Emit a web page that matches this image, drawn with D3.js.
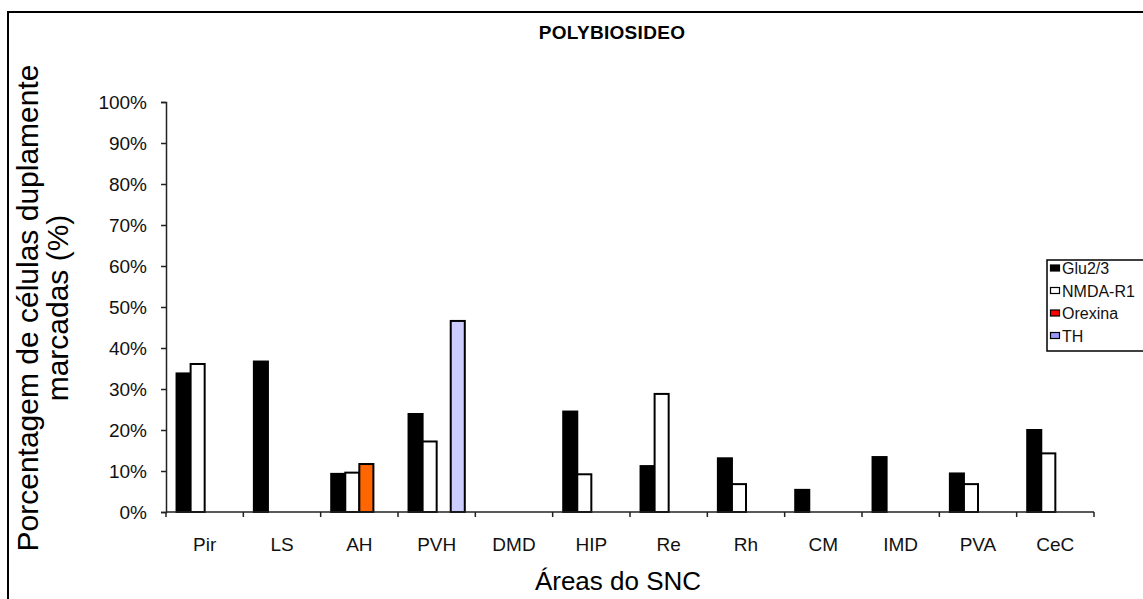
<!DOCTYPE html>
<html>
<head>
<meta charset="utf-8">
<script src="https://cdn.jsdelivr.net/npm/d3@7"></script>
<style>
  html, body { margin: 0; padding: 0; background: #fff; }
  svg { display: block; font-family: "Liberation Sans", Arial, sans-serif; }
</style>
</head>
<body>
<svg id="chart" width="1143" height="599"></svg>
<script>
// ---- data ----
const categories = ["Pir", "LS", "AH", "PVH", "DMD", "HIP", "Re", "Rh", "CM", "IMD", "PVA", "CeC"];
const seriesNames = ["Glu2/3", "NMDA-R1", "Orexina", "TH"];
const glu     = [33.8, 36.7, 9.3, 23.9, null, 24.5, 11.2, 13.1, 5.4, 13.4, 9.4, 20.0];
const nmda    = [36.1, null, 9.6, 17.2, null, 9.2, 28.8, 6.8, null, null, 6.8, 14.3];
const orexina = [null, null, 11.7, null, null, null, null, null, null, null, null, null];
const th      = [null, null, null, 46.6, null, null, null, null, null, null, null, null];
const yTicks  = [0, 10, 20, 30, 40, 50, 60, 70, 80, 90, 100];
const barColors    = ["#000000", "#ffffff", "#ff6600", "#ccccff"];
const legendColors = ["#000000", "#ffffff", "#ff0000", "#9999ff"];

const seriesValues = [glu, nmda, orexina, th];

const svg = d3.select("#chart");

// outer frame
svg.append("rect")
  .attr("x", 8).attr("y", 12).attr("width", 1300).attr("height", 800)
  .attr("fill", "none").attr("stroke", "#000").attr("stroke-width", 2);

// scales
const x0 = d3.scaleBand().domain(categories).range([166, 1094]).padding(0);
const x1 = d3.scaleBand().domain(seriesNames).range([0, x0.bandwidth()]).paddingInner(0).paddingOuter(0.75);
const y = d3.scaleLinear().domain([0, 100]).range([512, 102]);

// title
svg.append("text")
  .attr("x", 612).attr("y", 39)
  .attr("text-anchor", "middle")
  .attr("font-weight", "bold")
  .attr("font-size", 19)
  .attr("letter-spacing", 0.3)
  .text("POLYBIOSIDEO");

// bars
const rows = [];
categories.forEach((c, i) => {
  seriesNames.forEach((s, j) => {
    const v = seriesValues[j][i];
    if (v !== null && v !== undefined) rows.push({ c, s, v, j });
  });
});

svg.append("g").selectAll("rect")
  .data(rows)
  .join("rect")
  .attr("x", d => x0(d.c) + x1(d.s))
  .attr("y", d => y(d.v))
  .attr("width", x1.bandwidth())
  .attr("height", d => y(0) - y(d.v))
  .attr("fill", d => barColors[d.j])
  .attr("stroke", "#000")
  .attr("stroke-width", 2);

// y axis
const yAxis = svg.append("g")
  .attr("transform", "translate(166,0)")
  .call(d3.axisLeft(y).tickValues(yTicks).tickFormat(d => d + "%").tickSize(5).tickPadding(14));
yAxis.select(".domain").attr("stroke", "#222").attr("stroke-width", 1.5);
yAxis.selectAll(".tick line").attr("stroke", "#222").attr("stroke-width", 1.5);
yAxis.selectAll("text").attr("font-size", 19).attr("fill", "#111")
  .attr("font-family", "'Liberation Sans', Arial, sans-serif");

// x axis: baseline line + boundary ticks + labels
const xg = svg.append("g");
xg.append("line")
  .attr("x1", x0.range()[0]).attr("x2", x0.range()[1])
  .attr("y1", y(0)).attr("y2", y(0))
  .attr("stroke", "#222").attr("stroke-width", 1.5);
const bounds = categories.map(c => x0(c)).concat([x0(categories[categories.length - 1]) + x0.bandwidth()]);
xg.selectAll("line.bt")
  .data(bounds)
  .join("line")
  .attr("class", "bt")
  .attr("x1", d => d).attr("x2", d => d)
  .attr("y1", y(0)).attr("y2", y(0) + 5)
  .attr("stroke", "#222").attr("stroke-width", 1.5);
xg.selectAll("text.cl")
  .data(categories)
  .join("text")
  .attr("class", "cl")
  .attr("x", d => x0(d) + x0.bandwidth() / 2)
  .attr("y", 551)
  .attr("text-anchor", "middle")
  .attr("font-size", 19)
  .attr("fill", "#111")
  .text(d => d);

// axis titles
svg.append("text")
  .attr("x", 618).attr("y", 590)
  .attr("text-anchor", "middle")
  .attr("font-size", 26)
  .text("Áreas do SNC");

const yl = svg.append("text")
  .attr("transform", "translate(38,308) rotate(-90)")
  .attr("text-anchor", "middle")
  .attr("font-size", 30);
yl.append("tspan").attr("x", 0).attr("dy", 0).text("Porcentagem de células duplamente");
yl.append("tspan").attr("x", 0).attr("dy", 30).text("marcadas (%)");

// legend
const lg = svg.append("g");
lg.append("rect")
  .attr("x", 1047).attr("y", 260).attr("width", 200).attr("height", 91)
  .attr("fill", "#fff").attr("stroke", "#000").attr("stroke-width", 1.5);
const items = lg.selectAll("g.it")
  .data(seriesNames)
  .join("g")
  .attr("class", "it")
  .attr("transform", (d, i) => `translate(1050,${268 + i * 22.5})`);
items.append("rect")
  .attr("x", 0.5).attr("y", -3).attr("width", 9).attr("height", 6)
  .attr("fill", (d, i) => legendColors[i])
  .attr("stroke", "#000").attr("stroke-width", 1.2);
items.append("text")
  .attr("x", 12).attr("y", 6)
  .attr("font-size", 16)
  .attr("fill", "#111")
  .text(d => d);
</script>
</body>
</html>
